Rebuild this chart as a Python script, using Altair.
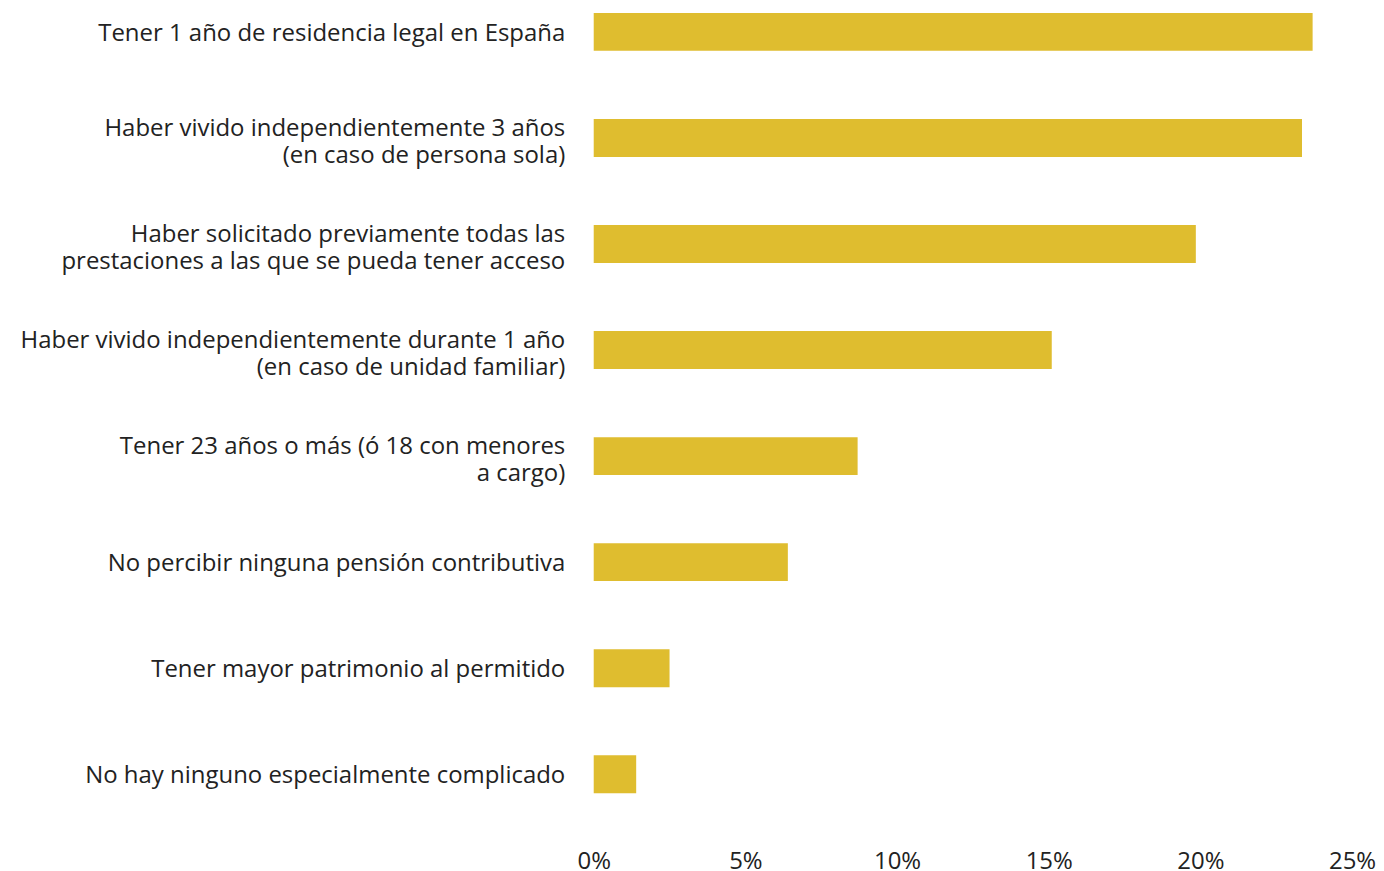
import altair as alt
import pandas as pd

labels = [
    "Tener 1 año de residencia legal en España",
    "Haber vivido independientemente 3 años|(en caso de persona sola)",
    "Haber solicitado previamente todas las|prestaciones a las que se pueda tener acceso",
    "Haber vivido independientemente durante 1 año|(en caso de unidad familiar)",
    "Tener 23 años o más (ó 18 con menores|a cargo)",
    "No percibir ninguna pensión contributiva",
    "Tener mayor patrimonio al permitido",
    "No hay ninguno especialmente complicado",
]
values = [23.7, 23.35, 19.85, 15.1, 8.7, 6.4, 2.5, 1.4]
ticks = [0, 0.05, 0.1, 0.15, 0.2, 0.25]

df = pd.DataFrame({"label": labels, "value": [v / 100 for v in values]})

chart = alt.Chart(df).mark_bar(color="#DFBD2F").encode(
    x=alt.X(
        "value:Q",
        scale=alt.Scale(domain=[0, 0.25], nice=False),
        axis=alt.Axis(
            format="%", values=ticks, title=None,
            grid=False, domain=False, ticks=False, labelFontSize=24,
            labelFont="Open Sans", labelColor="#222222", offset=50, labelPadding=6,
            labelFlush=False,
        ),
    ),
    y=alt.Y(
        "label:N",
        sort=labels,
        scale=alt.Scale(paddingInner=0.6425, paddingOuter=0),
        axis=alt.Axis(
            title=None, domain=False, ticks=False, grid=False,
            labelFontSize=24, labelFont="Open Sans", labelColor="#222222",
            labelLimit=0, labelPadding=29, labelLineHeight=27,
            labelExpr="split(datum.label, '|')",
            labelOffset={"condition": {"test": "indexof(datum.label, '|') >= 0", "value": -9}, "value": 2},
        ),
    ),
).properties(
    width=760, height=782,
    padding={"left": 11, "top": 4, "right": 0, "bottom": 0},
).configure_view(stroke=None)

chart.save("out.html", embed_options={"renderer": "svg", "actions": False})
